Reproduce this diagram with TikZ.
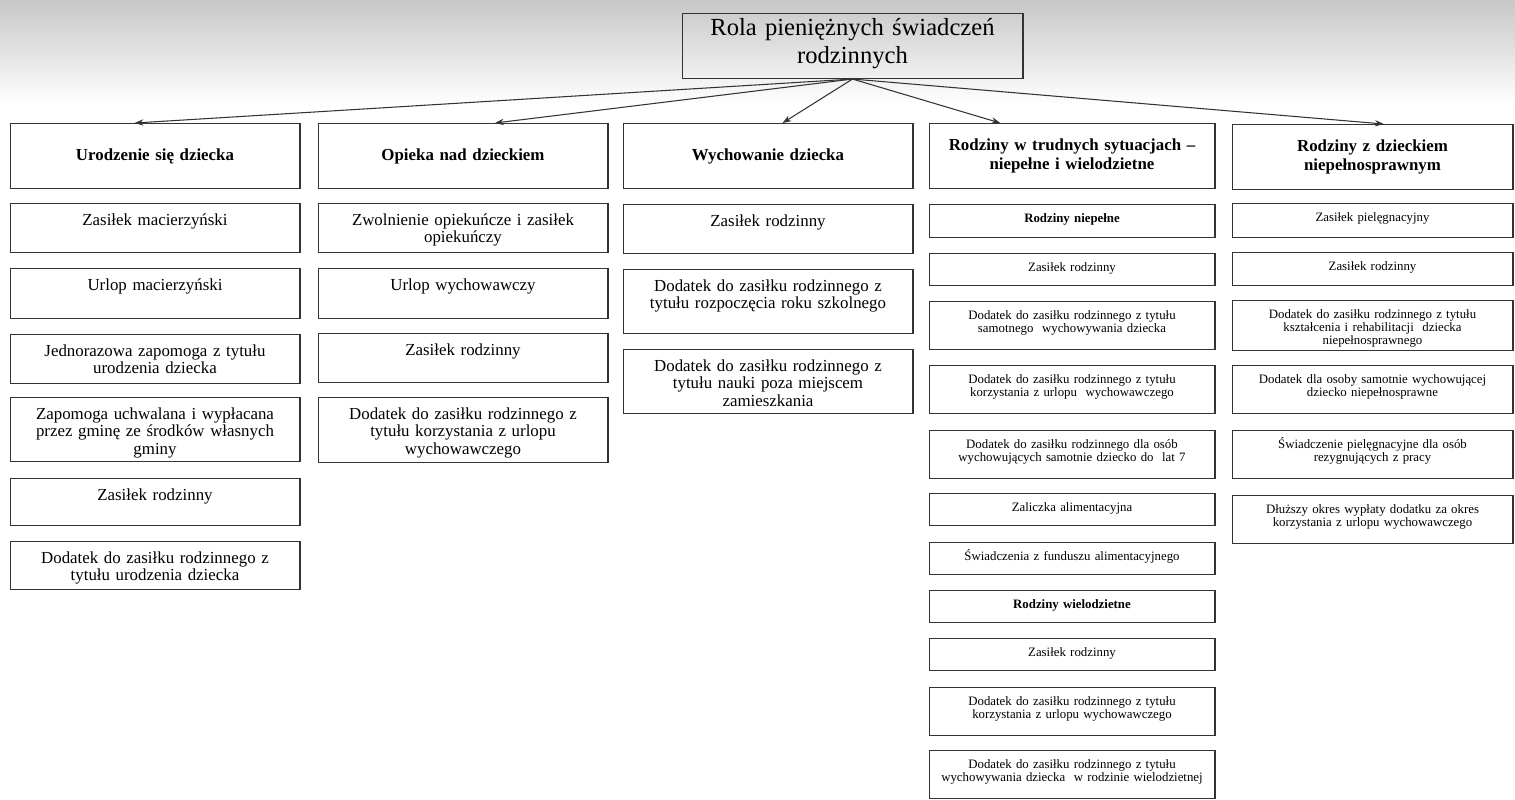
\documentclass[tikz,border=0pt]{standalone}
\usepackage{fontspec}
\setmainfont{Liberation Serif}
\usetikzlibrary{arrows.meta,
	calc}

\begin{document}
\begin{tikzpicture}[x=0.02cm, y=-0.02cm, >={Stealth[length=5pt,width=3.6pt]}]
    \tikzstyle{box}=[draw=black!80, line width=0.6pt, anchor=north, align=center, inner xsep=0pt, inner ysep=0pt]
    \tikzstyle{head}=[box, font=\bfseries\fontsize{9.6}{10.6}\selectfont, minimum height=1.3cm]
    \tikzstyle{link}=[->, line width=0.6pt, black!80]
    \tikzset{item/.style={box, font=\fontsize{9.6}{10}\selectfont, text height=0.43cm, text depth=#1},
      small/.style={box, font=\fontsize{7.3}{7.4}\selectfont, text height=0.35cm, text depth=#1},
      smallbold/.style={small=#1, font=\bfseries\fontsize{7.3}{7.4}\selectfont}}
    \useasboundingbox (0,0) rectangle (1515,799);
    \shade[top color=black!22, bottom color=white] (0,0) rectangle (1515,105);
    \node[box, font=\fontsize{14}{16}\selectfont, text width=6.82cm, text height=0.44cm, text depth=0.86cm] (r) at (852.5,13) {Rola pieniężnych świadczeń\\rodzinnych};
    \begin{scope}[every node/.append style={text width=5.8cm}]
    \node[head] (h_1) at (155,123) {Urodzenie się dziecka};
    \node[item=0.55cm] (z_1_1) at (155,203) {Zasiłek macierzyński};
    \node[item=0.57cm] (z_1_2) at (155,268) {Urlop macierzyński};
    \node[item=0.55cm] (z_1_3) at (155,334) {Jednorazowa zapomoga z tytułu\\urodzenia dziecka};
    \node[item=0.85cm] (z_1_4) at (155,397) {Zapomoga uchwalana i wypłacana\\przez gminę ze środków własnych\\gminy};
    \node[item=0.51cm] (z_1_5) at (155,478) {Zasiłek rodzinny};
    \node[item=0.53cm] (z_1_6) at (155,541) {Dodatek do zasiłku rodzinnego z\\tytułu urodzenia dziecka};
    \node[head] (h_2) at (463,123) {Opieka nad dzieckiem};
    \node[item=0.55cm] (z_2_1) at (463,203) {Zwolnienie opiekuńcze i zasiłek\\opiekuńczy};
    \node[item=0.57cm] (z_2_2) at (463,268) {Urlop wychowawczy};
    \node[item=0.55cm] (z_2_3) at (463,333) {Zasiłek rodzinny};
    \node[item=0.87cm] (z_2_4) at (463,397) {Dodatek do zasiłku rodzinnego z\\tytułu korzystania z urlopu\\wychowawczego};
    \node[head] (h_3) at (768,123) {Wychowanie dziecka};
    \node[item=0.55cm] (z_3_1) at (768,204) {Zasiłek rodzinny};
    \node[item=0.85cm] (z_3_2) at (768,269) {Dodatek do zasiłku rodzinnego z\\tytułu rozpoczęcia roku szkolnego};
    \node[item=0.85cm] (z_3_3) at (768,349) {Dodatek do zasiłku rodzinnego z\\tytułu nauki poza miejscem\\zamieszkania};
    \end{scope}
    \begin{scope}[every node/.append style={text width=5.72cm}]
    \node[head] (h_4) at (1072,123) {Rodziny w trudnych sytuacjach –\\niepełne i wielodzietne};
    \node[smallbold=0.31cm] (z_4_1) at (1072,204) {Rodziny niepełne};
    \node[small=0.29cm] (z_4_2) at (1072,253) {Zasiłek rodzinny};
    \node[small=0.61cm] (z_4_3) at (1072,301) {Dodatek do zasiłku rodzinnego z tytułu\\samotnego\ \ wychowywania dziecka};
    \node[small=0.61cm] (z_4_4) at (1072,365) {Dodatek do zasiłku rodzinnego z tytułu\\korzystania z urlopu\ \ wychowawczego};
    \node[small=0.61cm] (z_4_5) at (1072,430) {Dodatek do zasiłku rodzinnego dla osób\\wychowujących samotnie dziecko do\ \ lat 7};
    \node[small=0.29cm] (z_4_6) at (1072,493) {Zaliczka alimentacyjna};
    \node[small=0.29cm] (z_4_7) at (1072,542) {Świadczenia z funduszu alimentacyjnego};
    \node[smallbold=0.29cm] (z_4_8) at (1072,590) {Rodziny wielodzietne};
    \node[small=0.29cm] (z_4_9) at (1072,638) {Zasiłek rodzinny};
    \node[small=0.61cm] (z_4_10) at (1072,687) {Dodatek do zasiłku rodzinnego z tytułu\\korzystania z urlopu wychowawczego};
    \node[small=0.61cm] (z_4_11) at (1072,750) {Dodatek do zasiłku rodzinnego z tytułu\\wychowywania dziecka\ \ w rodzinie wielodzietnej};
    \end{scope}
    \begin{scope}[every node/.append style={text width=5.62cm}]
    \node[head] (h_5) at (1372.5,124) {Rodziny z dzieckiem\\niepełnosprawnym};
    \node[small=0.33cm] (z_5_1) at (1372.5,203) {Zasiłek pielęgnacyjny};
    \node[small=0.31cm] (z_5_2) at (1372.5,252) {Zasiłek rodzinny};
    \node[small=0.65cm] (z_5_3) at (1372.5,300) {Dodatek do zasiłku rodzinnego z tytułu\\kształcenia i rehabilitacji\ \ dziecka\\niepełnosprawnego};
    \node[small=0.61cm] (z_5_4) at (1372.5,365) {Dodatek dla osoby samotnie wychowującej\\dziecko niepełnosprawne};
    \node[small=0.61cm] (z_5_5) at (1372.5,430) {Świadczenie pielęgnacyjne dla osób\\rezygnujących z pracy};
    \node[small=0.61cm] (z_5_6) at (1372.5,495) {Dłuższy okres wypłaty dodatku za okres\\korzystania z urlopu wychowawczego};
    \end{scope}
    \draw[link] (r.south) -- ($(h_1.north west)!0.43!(h_1.north east)$);
    \draw[link] (r.south) -- ($(h_2.north west)!0.61!(h_2.north east)$);
    \draw[link] (r.south) -- ($(h_3.north west)!0.55!(h_3.north east)$);
    \draw[link] (r.south) -- ($(h_4.north west)!0.25!(h_4.north east)$);
    \draw[link] (r.south) -- ($(h_5.north west)!0.54!(h_5.north east)$);
\end{tikzpicture}
\end{document}
